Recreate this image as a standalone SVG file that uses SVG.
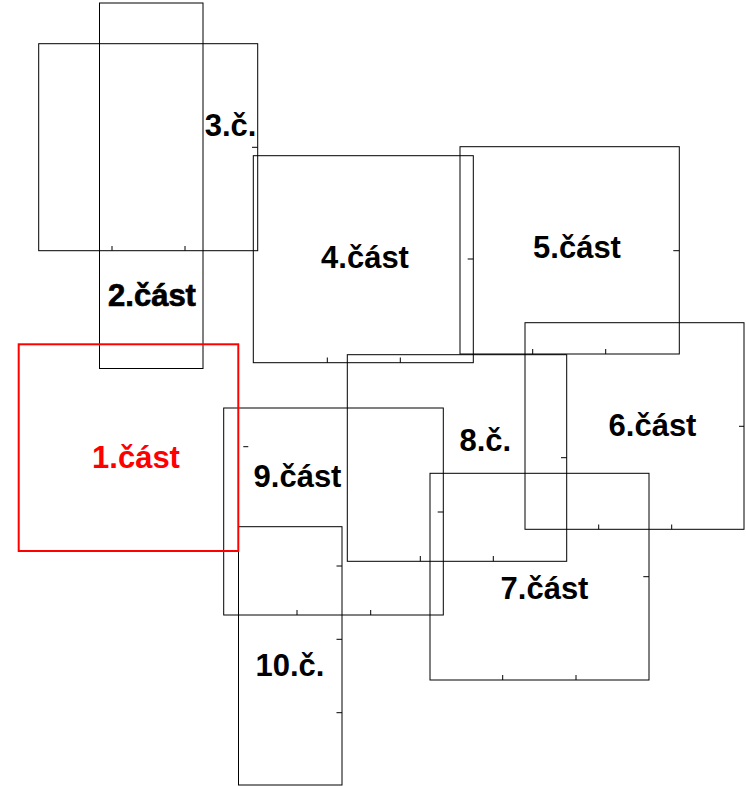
<svg xmlns="http://www.w3.org/2000/svg" width="746" height="786" viewBox="0 0 746 786">
<style>
.b{fill:none;stroke:#000;stroke-width:1}
.r{fill:none;stroke:#ff0000;stroke-width:2}
.t{fill:none;stroke:#000;stroke-width:1}
.l{font-family:"Liberation Sans",Arial,sans-serif;font-weight:bold;font-size:31px;text-anchor:middle;fill:#000}
.lr{fill:#ff0000}
</style>
<rect width="746" height="786" fill="#fff"/>
<g id="n2">
<rect class="b" x="99.5" y="3" width="103.5" height="365.5"/>
<text class="l" x="152" y="306" style="stroke:#000;stroke-width:0.7">2.část</text>
</g>
<g id="n3">
<rect class="b" x="38.7" y="43.7" width="219" height="207"/>
<path class="t" d="M112 250.7V246M185 250.7V246M252 147.3H257.7"/>
<text class="l" x="230.5" y="136">3.č.</text>
</g>
<g id="n4">
<rect class="b" x="253.3" y="155.7" width="220" height="207"/>
<path class="t" d="M327.3 362.7V357.5M400.3 362.7V357.5M467.7 259H473.3"/>
<text class="l" x="365" y="268.3">4.část</text>
</g>
<g id="n5">
<rect class="b" x="460" y="146.7" width="219.3" height="207.3"/>
<path class="t" d="M532.7 354V349M605.7 354V349M673.3 250.7H679.3"/>
<text class="l" x="577" y="258.3">5.část</text>
</g>
<g id="n6">
<rect class="b" x="525" y="322.7" width="219" height="206.6"/>
<path class="t" d="M598.7 529.3V524.5M671.7 529.3V524.5M739 426.3H744"/>
<text class="l" x="652.5" y="435.7">6.část</text>
</g>
<g id="n8">
<rect class="b" x="347.3" y="354.7" width="219.4" height="206.6"/>
<path class="t" d="M420.3 561.3V556M493.3 561.3V556M561 457.7H566.7"/>
<text class="l" x="485.3" y="451">8.č.</text>
</g>
<g id="n7">
<rect class="b" x="430" y="473.3" width="219" height="206.7"/>
<path class="t" d="M502.7 680V675M576 680V675M643.3 576.7H649"/>
<text class="l" x="544.5" y="598.7">7.část</text>
</g>
<g id="n9">
<rect class="b" x="223.7" y="408" width="219.6" height="207"/>
<path class="t" d="M297 615V610M370.7 615V610M437.7 512H443.3M243.3 446.7H248.3"/>
<text class="l" x="297.5" y="486.7">9.část</text>
</g>
<g id="n10">
<rect class="b" x="238.5" y="526.7" width="103.5" height="258.3"/>
<path class="t" d="M336.5 566H342M336.5 639.3H342M336.5 712.7H342"/>
<text class="l" x="290" y="676">10.č.</text>
</g>
<g id="n1">
<rect class="r" x="18.7" y="344.3" width="219.6" height="206.7"/>
<text class="l lr" x="136" y="467.7">1.část</text>
</g>
<g id="connectors"></g>
</svg>
